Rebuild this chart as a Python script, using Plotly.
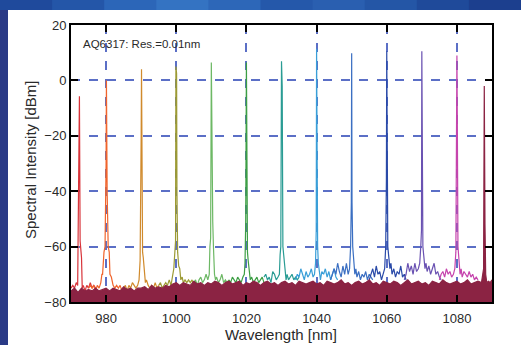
import plotly.graph_objects as go

# ---------------- data ----------------
red_wl = [970.0, 970.5, 971.0, 971.5, 971.9, 972.0, 972.1, 972.2, 972.3, 972.4, 972.6, 972.8, 973.0, 973.2, 973.5, 974.0, 974.5, 975.0, 975.5, 976.0, 976.5, 977.0]
red_db = [-75, -74, -75, -73, -74, -57, -57, -26, -26, -5.7, -58, -62, -64, -75, -74, -76, -74, -75, -73, -75, -74, -75]

orn_wl = [975, 975.5, 976, 976.5, 977, 977.5, 978, 978.5, 978.8, 979.0, 979.4, 979.7, 980.0, 980.1, 980.3, 980.6, 980.9, 981.1, 981.5, 982, 982.5, 983, 983.5, 984, 984.5, 985]
orn_db = [-75, -74, -75, -74, -76, -74, -75, -73, -70, -70, -62, -60, -30, 0, -40, -60, -62, -70, -71, -74, -75, -74, -75, -74, -76, -75]

och_wl = [985, 985.5, 986, 986.5, 987, 987.5, 988, 988.5, 989, 989.4, 989.7, 989.9, 990.0, 990.1, 990.2, 990.4, 990.6, 990.9, 991.2, 991.5, 992, 992.5, 993, 993.5, 994, 994.5, 995]
och_db = [-75, -74, -76, -74, -75, -73, -74, -75, -74, -72, -65, -44, -20, 4, -44, -62, -64, -70, -73, -72, -74, -75, -74, -75, -73, -75, -74]

olv_wl = [995, 995.5, 996, 996.5, 997, 997.5, 998, 998.5, 999, 999.3, 999.6, 999.8, 999.9, 1000.0, 1000.1, 1000.2, 1000.4, 1000.7, 1001.0, 1001.3, 1001.7, 1002, 1002.5, 1003, 1003.5, 1004, 1004.5, 1005]
olv_db = [-74, -73, -75, -74, -73, -74, -72, -74, -71, -68, -62, -58, 5, 2.5, 2.5, -40, -62, -67, -68, -72, -71, -73, -72, -73, -72, -73, -72, -74]

lgr_wl = [1005, 1005.5, 1006, 1006.5, 1007, 1007.5, 1008, 1008.5, 1009, 1009.4, 1009.6, 1009.8, 1010.0, 1010.2, 1010.4, 1010.6, 1010.9, 1011.2, 1011.5, 1012, 1012.5, 1013, 1013.5, 1014, 1014.5, 1015]
lgr_db = [-73, -72, -74, -72, -71, -73, -72, -70, -72, -70, -60, -57, 6.5, -51, -51, -60, -70, -72, -71, -73, -72, -70, -73, -72, -73, -72]

grn_wl = [1015, 1015.5, 1016, 1016.5, 1017, 1017.5, 1018, 1018.5, 1019, 1019.4, 1019.6, 1019.8, 1020.0, 1020.1, 1020.3, 1020.5, 1020.8, 1021.1, 1021.5, 1022, 1022.5, 1023, 1023.5, 1024, 1024.5, 1025]
grn_db = [-72, -73, -71, -72, -73, -71, -72, -73, -71, -70, -66, -51, 6.5, -52, -62, -65, -70, -72, -71, -73, -72, -71, -73, -72, -71, -73]

tea_wl = [1025, 1025.5, 1026, 1026.5, 1027, 1027.5, 1028, 1028.5, 1029, 1029.4, 1029.6, 1029.8, 1030.0, 1030.1, 1030.2, 1030.4, 1030.7, 1031.0, 1031.3, 1031.6, 1032, 1032.5, 1033, 1033.5, 1034, 1034.5, 1035]
tea_db = [-71, -70, -72, -71, -73, -69, -70, -72, -71, -70, -63, -60, 6.9, -2, -2, -60, -66, -68, -72, -70, -72, -71, -70, -72, -71, -72, -71]

lbl_wl = [1034, 1034.5, 1035, 1035.5, 1036, 1036.5, 1037, 1037.5, 1038, 1038.5, 1039, 1039.4, 1039.7, 1039.9, 1040.0, 1040.1, 1040.3, 1040.5, 1040.8, 1041.1, 1041.5, 1042, 1042.5, 1043, 1043.5, 1044, 1044.5, 1045, 1045.5, 1046]
lbl_db = [-72, -70, -71, -68, -70, -72, -69, -71, -70, -68, -71, -70, -66, -54, 11.4, -54, -60, -66, -70, -72, -69, -70, -68, -71, -69, -72, -70, -68, -71, -72]

blu_wl = [1044, 1044.5, 1045, 1045.5, 1046, 1046.5, 1047, 1047.5, 1048, 1048.5, 1049, 1049.4, 1049.7, 1049.9, 1050.0, 1050.1, 1050.3, 1050.6, 1050.9, 1051.2, 1051.5, 1052, 1052.5, 1053, 1053.5, 1054, 1054.5, 1055, 1055.5, 1056]
blu_db = [-72, -70, -68, -70, -66, -69, -71, -67, -70, -66, -70, -68, -60, -44, 9.8, -44, -60, -66, -70, -68, -71, -69, -72, -70, -71, -69, -72, -70, -71, -72]

dbl_wl = [1055, 1055.5, 1056, 1056.5, 1057, 1057.5, 1058, 1058.5, 1059, 1059.4, 1059.7, 1059.9, 1060.0, 1060.1, 1060.3, 1060.6, 1060.9, 1061.2, 1061.5, 1062, 1062.5, 1063, 1063.5, 1064, 1064.5, 1065, 1065.5]
dbl_db = [-72, -70, -68, -71, -67, -70, -69, -72, -70, -68, -60, -36, 10.5, -38, -60, -64, -68, -66, -70, -68, -71, -69, -70, -67, -71, -70, -72]

pur_wl = [1065, 1065.5, 1066, 1066.5, 1067, 1067.5, 1068, 1068.5, 1069, 1069.4, 1069.7, 1069.9, 1070.0, 1070.1, 1070.3, 1070.6, 1070.9, 1071.2, 1071.5, 1072, 1072.5, 1073, 1073.5, 1074, 1074.5, 1075, 1075.5]
pur_db = [-72, -70, -66, -69, -67, -70, -66, -69, -68, -66, -60, -54, 10.5, -54, -60, -64, -68, -66, -69, -67, -70, -68, -66, -70, -69, -71, -72]

mag_wl = [1075, 1075.5, 1076, 1076.5, 1077, 1077.5, 1078, 1078.5, 1079, 1079.4, 1079.7, 1079.9, 1080.0, 1080.1, 1080.3, 1080.6, 1080.9, 1081.2, 1081.5, 1082, 1082.5, 1083, 1083.5, 1084, 1084.5, 1085, 1085.5, 1086]
mag_db = [-72, -70, -69, -71, -68, -70, -69, -71, -70, -68, -62, -11, 9, -11, -60, -64, -70, -68, -71, -69, -70, -71, -69, -71, -70, -72, -71, -72]

mar_floor_wl = list(range(970, 1088))
mar_floor_db = [
    -76, -75, -76.5, -75, -76, -75.5, -76, -75, -76, -75.5,
    -75, -76, -75, -75.5, -76, -74.5, -75.5, -75, -76, -75,
    -75, -74.5, -75.5, -74, -75, -74.5, -75, -74, -74.5, -73.5,
    -73, -74, -73, -73.5, -74, -72.5, -73.5, -73, -74, -73,
    -73.5, -72.5, -73, -74, -73, -72.5, -73.5, -73, -72.5, -74,
    -73, -73.5, -72.5, -73, -74, -73, -72.5, -73.5, -73, -74,
    -73, -72.5, -73.5, -73, -74, -72.5, -73, -73.5, -73, -72.5,
    -73.5, -73, -74, -72.5, -73, -73.5, -73, -72, -73.5, -73,
    -74, -73, -72.5, -73.5, -73, -72, -73.5, -73, -74, -72.5,
    -73, -73.5, -72.5, -73, -74, -73, -72, -73.5, -73, -72.5,
    -73.5, -73, -74, -72.5, -73, -73.5, -72, -73, -73.5, -73,
    -72.5, -73.5, -73, -72, -73.5, -73, -72.5, -73,
]
mar_peak_wl = [1087.4, 1087.6, 1087.8, 1087.9, 1088.0, 1088.2, 1088.5, 1089.0, 1089.5, 1090.0]
mar_peak_db = [-70, -68, -2, -52, -52, -70, -73, -72.5, -73, -72]

x_ticks = [980, 1000, 1020, 1040, 1060, 1080]
y_ticks = [-80, -60, -40, -20, 0, 20]

series = [
    (red_wl, red_db, "#d8343a"),
    (orn_wl, orn_db, "#f0642c"),
    (och_wl, och_db, "#d08a2c"),
    (olv_wl, olv_db, "#9c9a34"),
    (lgr_wl, lgr_db, "#6db865"),
    (grn_wl, grn_db, "#3c9e44"),
    (tea_wl, tea_db, "#2a9c94"),
    (lbl_wl, lbl_db, "#3a9fd8"),
    (blu_wl, blu_db, "#3b6fc2"),
    (dbl_wl, dbl_db, "#2a4aa8"),
    (pur_wl, pur_db, "#6a52b2"),
    (mag_wl, mag_db, "#c644ad"),
]

# ---------------- figure ----------------
W, H = 521, 345
ML, MR, MT, MB = 71, 29, 25, 43
PW, PH = W - ML - MR, H - MT - MB

def px_x(p):
    return (p - ML) / PW

def px_y(p):
    return (H - MB - p) / PH

fig = go.Figure()
for wl, db, col in series:
    fig.add_trace(go.Scatter(x=wl, y=db, mode="lines", line=dict(color=col, width=1.2),
                             showlegend=False, hoverinfo="skip"))

mar_wl = mar_floor_wl + mar_peak_wl
mar_db = mar_floor_db + mar_peak_db
fig.add_trace(go.Scatter(x=[mar_wl[0], mar_wl[-1]], y=[-80, -80], mode="lines",
                         line=dict(width=0, color="rgba(0,0,0,0)"), showlegend=False, hoverinfo="skip"))
fig.add_trace(go.Scatter(x=mar_wl, y=mar_db, mode="lines", fill="tonexty",
                         fillcolor="#8b2343", line=dict(color="#8b2343", width=1.2),
                         showlegend=False, hoverinfo="skip"))

font_fam = "Liberation Sans, Arial, sans-serif"
txt_col = "#2a2a2a"

axis_common = dict(showline=True, linecolor="black", linewidth=2, mirror="allticks",
                   ticks="inside", ticklen=7, tickwidth=1.5, tickcolor="black",
                   showgrid=True, gridcolor="#5b6fc6", gridwidth=1.6, griddash="dash",
                   zeroline=False, tickfont=dict(family=font_fam, size=13, color=txt_col))

fig.update_xaxes(range=[970, 1090], tickvals=x_ticks, ticklabelstandoff=3, **axis_common)
fig.update_yaxes(range=[-80, 20], tickvals=y_ticks, **axis_common)

shapes = []
# blue background bands (top strip gradient)
top_cols = ["#1f4a9c", "#2456a8", "#2c66b8", "#3473c2", "#2d67b8", "#2558aa", "#2a5fb0", "#2456a6", "#1f4a9a", "#1c3f8e"]
nb = len(top_cols)
for i, c in enumerate(top_cols):
    x0 = i * W / nb
    x1 = (i + 1) * W / nb + 1
    shapes.append(dict(type="rect", xref="paper", yref="paper", layer="below",
                       x0=px_x(x0), x1=px_x(x1), y0=px_y(H), y1=px_y(0),
                       fillcolor=c, line=dict(width=0)))
# left strip
shapes.append(dict(type="rect", xref="paper", yref="paper", layer="below",
                   x0=px_x(0), x1=px_x(9), y0=px_y(H), y1=px_y(10),
                   fillcolor="#2a3a86", line=dict(width=0)))
# white panel
shapes.append(dict(type="rect", xref="paper", yref="paper", layer="below",
                   x0=px_x(8), x1=px_x(W + 2), y0=px_y(H + 2), y1=px_y(10),
                   fillcolor="white", line=dict(width=0)))

annotations = [
    dict(text="AQ6317: Res.=0.01nm", xref="paper", yref="paper", x=px_x(81), y=px_y(44),
         xanchor="left", yanchor="middle", showarrow=False,
         font=dict(family=font_fam, size=11.5, color=txt_col)),
    dict(text="Wavelength [nm]", xref="paper", yref="paper", x=px_x(281), y=px_y(334),
         xanchor="center", yanchor="middle", showarrow=False,
         font=dict(family=font_fam, size=15, color=txt_col)),
    dict(text="Spectral Intensity [dBm]", xref="paper", yref="paper", x=px_x(30), y=px_y(160),
         xanchor="center", yanchor="middle", showarrow=False, textangle=-90,
         font=dict(family=font_fam, size=15, color=txt_col)),
]

fig.update_layout(width=W, height=H, margin=dict(l=ML, r=MR, t=MT, b=MB),
                  paper_bgcolor="#2456a8", plot_bgcolor="white",
                  shapes=shapes, annotations=annotations, showlegend=False)

fig.write_html("out.html", config={"displayModeBar": False})

# remove the browser's default body margin so the figure sits at the page origin
with open("out.html", "r", encoding="utf-8") as f:
    html = f.read()
html = html.replace("<body>", '<body style="margin:0;padding:0;overflow:hidden">', 1)
with open("out.html", "w", encoding="utf-8") as f:
    f.write(html)
